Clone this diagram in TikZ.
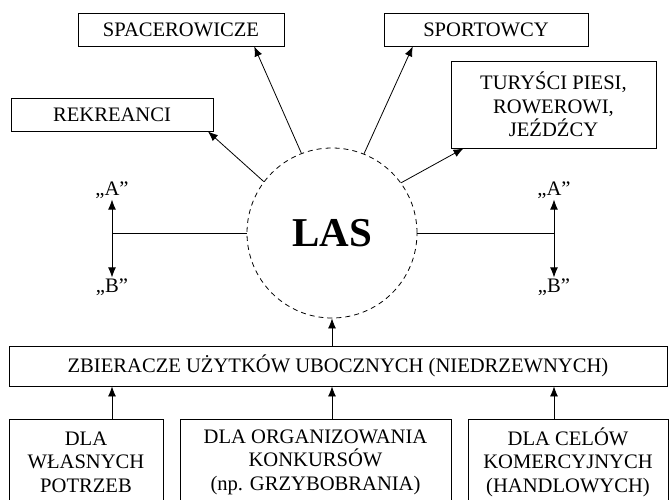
\documentclass[tikz,border=0pt]{standalone}
\usepackage{fontspec}
\setmainfont{Liberation Serif}
\usetikzlibrary{arrows.meta,calc,positioning}

\begin{document}
\begin{tikzpicture}[x=1pt,y=-1pt,font=\fontsize{20.6}{23.5}\selectfont,
  box/.style={rectangle,draw,line width=.8pt,align=center,inner sep=2pt},
  lab/.style={inner sep=1pt},
  arr/.style={line width=.8pt,-{Latex[length=10pt,width=8pt]}},
  conn/.style={line width=.8pt}]

\useasboundingbox (0,0) rectangle (669,500);
\clip (0,0) rectangle (669,500);

% Nodes
\node[circle,draw,line width=.8pt,dash pattern=on 5pt off 4pt,minimum size=170pt,inner sep=0,font=\fontsize{41}{45}\selectfont\bfseries] (las) at (332,233) {LAS};
\node[box,minimum width=206pt,minimum height=33pt] (spac) at (181,29.5) {SPACEROWICZE};
\node[box,minimum width=204pt,minimum height=33pt] (sport) at (486,29.5) {SPORTOWCY};
\node[box,minimum width=202pt,minimum height=33pt] (rekr) at (112,114.5) {REKREANCI};
\node[box,minimum width=205pt,minimum height=87pt] (tur) at (553.5,104.5) {TURYŚCI PIESI,\\ROWEROWI,\\JEŹDŹCY};
\node[box,minimum width=658pt,minimum height=40pt] (zbier) at (338,366) {ZBIERACZE UŻYTKÓW UBOCZNYCH (NIEDRZEWNYCH)};
\node[box,minimum width=154pt,minimum height=86pt] (dla1) at (86,462) {DLA\\WŁASNYCH\\POTRZEB};
\node[box,minimum width=271pt,minimum height=86pt] (dla2) at (315.5,462) {DLA ORGANIZOWANIA\\KONKURSÓW\\(np. GRZYBOBRANIA)};
\node[box,minimum width=200pt,minimum height=86pt] (dla3) at (568,462) {DLA CELÓW\\KOMERCYJNYCH\\(HANDLOWYCH)};

% A / B
\node[lab] (al) at (112,190) {„A”};
\node[lab] (bl) at (112,287) {„B”};
\node[lab] (ar) at (554,190) {„A”};
\node[lab] (br) at (554,287) {„B”};
\coordinate (jl) at (112,233);
\coordinate (jr) at (554,233);

%arcs
\path (las.111) edge[arr] (spac.-13.4);
\path (las.68) edge[arr] (sport.193.3);
\path (las.143) edge[arr] (rekr.-10.6);
\path (las.36.5) edge[arr] (tur.206.2);

\draw[conn] (las.west) -- (jl);
\draw[conn] (las.east) -- (jr);
\path (jl) edge[arr] (al.south);
\path (jl) edge[arr] (bl.north);
\path (jr) edge[arr] (ar.south);
\path (jr) edge[arr] (br.north);

\path (zbier.north -| las) edge[arr] (las.south);
\path (dla1.north -| jl) edge[arr] (zbier.south -| jl);
\path (dla2.north -| las) edge[arr] (zbier.south -| las);
\path (dla3.north -| jr) edge[arr] (zbier.south -| jr);
\end{tikzpicture}
\end{document}
